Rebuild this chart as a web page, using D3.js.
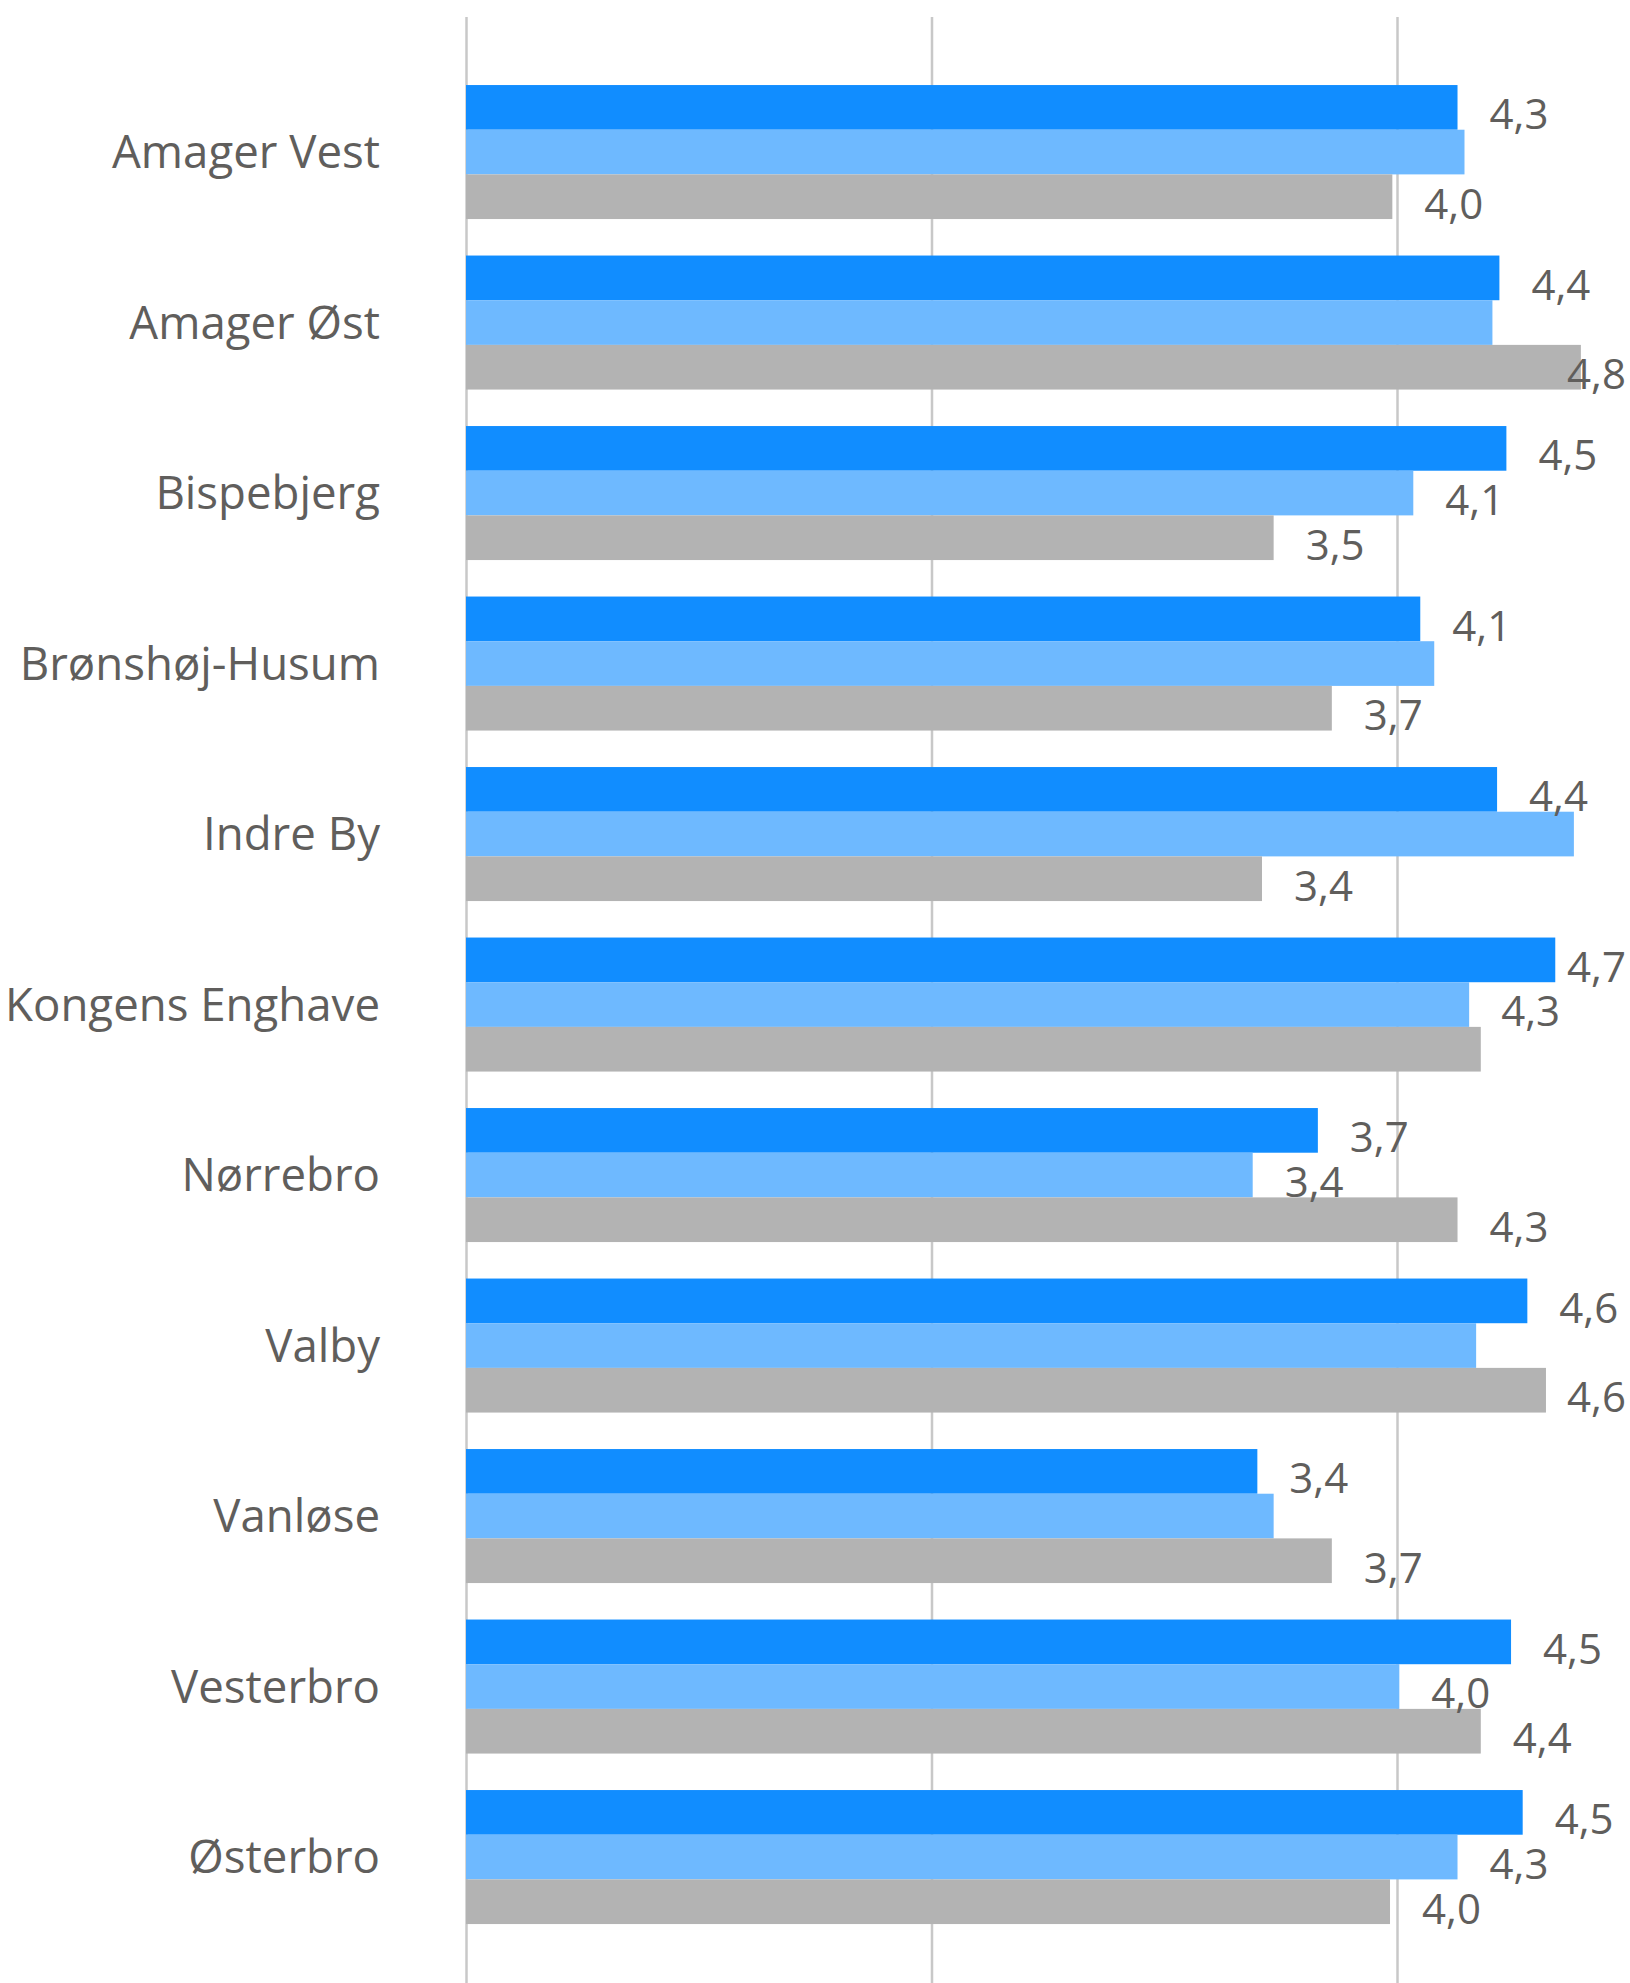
<!DOCTYPE html>
<html>
<head>
<meta charset="utf-8">
<script src="https://cdn.jsdelivr.net/npm/d3@7"></script>
<style>
  html, body { margin: 0; padding: 0; background: #ffffff; }
  svg { display: block; }
  text { font-family: "Open Sans", "Noto Sans", sans-serif; }
</style>
</head>
<body>
<svg id="chart" width="1630" height="1983"></svg>
<script>
const categories = ["Amager Vest", "Amager Øst", "Bispebjerg", "Brønshøj-Husum", "Indre By",
  "Kongens Enghave", "Nørrebro", "Valby", "Vanløse", "Vesterbro", "Østerbro"];
const seriesKeys = ["s1", "s2", "s3"];
const series1Values = [4.26, 4.44, 4.47, 4.10, 4.43, 4.68, 3.66, 4.56, 3.40, 4.49, 4.54];
const series2Values = [4.29, 4.41, 4.07, 4.16, 4.76, 4.31, 3.38, 4.34, 3.47, 4.01, 4.26];
const series3Values = [3.98, 4.79, 3.47, 3.72, 3.42, 4.36, 4.26, 4.64, 3.72, 4.36, 3.97];
const seriesColors = ["#118DFF", "#6EB9FF", "#B3B3B3"];
const gridTicks = [0, 2, 4];

const W = 1630, H = 1983;
const svg = d3.select("#chart");
const valuesBySeries = [series1Values, series2Values, series3Values];
const data = categories.map((c, i) => ({
  cat: c,
  vals: seriesKeys.map((k, j) => ({ key: k, idx: j, v: valuesBySeries[j][i] }))
}));

const x = d3.scaleLinear().domain([0, 5]).range([466, 466 + 5 * 232.75]);
const y = d3.scaleBand().domain(categories).range([66.8, 1942.3]).paddingInner(0.214).paddingOuter(0.107);
const y1 = d3.scaleBand().domain(seriesKeys).range([0, y.bandwidth()]).padding(0);

// gridlines
const gridG = svg.append("g").attr("transform", "translate(0,17)")
  .call(d3.axisTop(x).tickValues(gridTicks).tickSize(-(H - 17)).tickFormat(""));
gridG.select(".domain").remove();
gridG.selectAll(".tick line").attr("stroke", "#C8C8C8").attr("stroke-width", 2.5);

// category labels
const yAxisG = svg.append("g").attr("transform", "translate(380,0)")
  .call(d3.axisLeft(y).tickSize(0).tickPadding(0));
yAxisG.select(".domain").remove();
yAxisG.selectAll(".tick text")
  .attr("fill", "#605E5C")
  .attr("font-size", 45.6)
  .attr("dy", "0.36em")
  .style("font-family", "'Open Sans', 'Noto Sans', sans-serif");

// bars
const groups = svg.append("g").selectAll("g.grp").data(data).join("g")
  .attr("class", "grp")
  .attr("transform", d => `translate(0,${y(d.cat)})`);

groups.selectAll("rect").data(d => d.vals).join("rect")
  .attr("x", x(0))
  .attr("y", d => y1(d.key))
  .attr("height", y1.bandwidth())
  .attr("width", d => x(d.v) - x(0))
  .attr("fill", d => seriesColors[d.idx]);

// data labels with overlap hiding
const locale = d3.formatLocale({ decimal: ",", thousands: ".", grouping: [3], currency: ["", " kr"] });
const fmt = locale.format(".1f");
const labelFont = 42;
const labelLayer = svg.append("g");
data.forEach(d => {
  const placed = [];
  d.vals.forEach(v => {
    const cy = y(d.cat) + y1(v.key) + y1.bandwidth() / 2;
    const t = labelLayer.append("text")
      .attr("font-size", labelFont)
      .attr("fill", "#605E5C")
      .attr("dy", "0.52em")
      .attr("y", cy)
      .text(fmt(v.v));
    const w = t.node().getComputedTextLength();
    let lx = x(v.v) + 32;
    if (lx + w > W - 4) lx = W - 4 - w;
    t.attr("x", lx);
    const box = { x0: lx, x1: lx + w, y0: cy - labelFont * 0.65, y1: cy + labelFont * 0.65 };
    const hit = placed.some(b => box.x0 < b.x1 && box.x1 > b.x0 && box.y0 < b.y1 && box.y1 > b.y0);
    if (hit) t.remove(); else placed.push(box);
  });
});
</script>
</body>
</html>
